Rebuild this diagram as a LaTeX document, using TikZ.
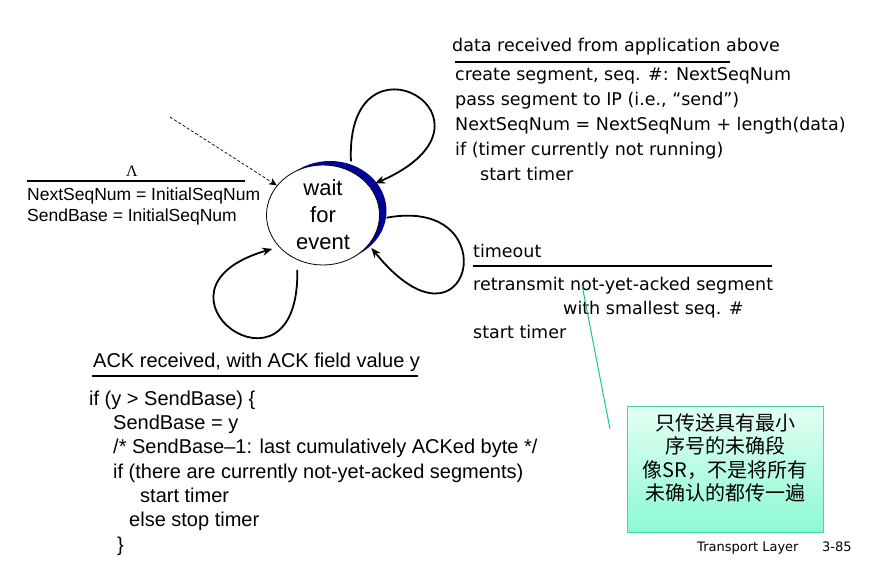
\documentclass[tikz,border=0pt]{standalone}
\usepackage{fontspec}
\usepackage{tikz}
\usetikzlibrary{arrows.meta,positioning,calc,shapes.geometric,shadows}
\newfontfamily\arialfont{Liberation Sans}
\newfontfamily\tahomafont{DejaVu Sans}
\newfontfamily\timesfont{Liberation Serif}
\newfontfamily\cjkfont{Noto Sans CJK SC}
\definecolor{ink}{RGB}{0,0,0}
\definecolor{deepblue}{RGB}{0,0,150}
\definecolor{notetop}{RGB}{228,255,242}
\definecolor{notebottom}{RGB}{140,250,212}
\definecolor{noteline}{RGB}{70,214,160}
\definecolor{pointergreen}{RGB}{20,200,150}
\tikzset{
  fsmstate/.style={ellipse,draw=ink,line width=0.8pt,fill=white,
    minimum width=113pt,minimum height=100pt,inner sep=0pt,align=center,
    font=\arialfont\fontsize{22}{27}\selectfont,
    general shadow={fill=deepblue,shadow xshift=7pt,shadow yshift=4pt}},
  selfloop/.style={line width=1.8pt,-{Stealth[length=10pt,width=8pt]}},
  initarrow/.style={line width=0.7pt,dash pattern=on 3pt off 2pt,
    -{Stealth[length=8pt,width=7pt]}},
  guardrule/.style={line width=1.3pt},
  tahtext/.style={anchor=base west,inner sep=0pt,align=left,
    font=\tahomafont\fontsize{17.5}{25}\selectfont},
  arialtext/.style={anchor=base west,inner sep=0pt,align=left,
    font=\arialfont\fontsize{20}{24.3}\selectfont},
  notebox/.style={draw=noteline,line width=1pt,top color=notetop,
    bottom color=notebottom,minimum width=196pt,minimum height=126pt},
  notetext/.style={align=center,inner sep=0pt,
    font=\cjkfont\fontsize{20}{23.3}\selectfont},
  pointer/.style={draw=pointergreen,line width=1pt},
  footnote/.style={anchor=base west,inner sep=0pt,
    font=\tahomafont\fontsize{13}{15}\selectfont}
}
\begin{document}
\begin{tikzpicture}[x=1pt,y=-1pt]
  \useasboundingbox (0,0) rectangle (881,568);
  \node[fsmstate] (wait) at (323,215) {wait\\for\\event};
  \coordinate (start) at (170,117);
  \draw[initarrow] (start) -- (wait);
  \draw[selfloop,shorten <=10pt,shorten >=6pt] (wait.57)
    .. controls (345,20) and (520,120) .. (wait.32);
  \draw[selfloop,shorten <=7pt,shorten >=4pt] (wait.-4)
    .. controls (510,195) and (470,370) .. (wait.-33);
  \draw[selfloop,shorten <=10pt,shorten >=7pt] (wait.240)
    .. controls (300,415) and (130,290) .. (wait.216);

  \node[anchor=base,inner sep=0pt,font=\timesfont\fontsize{16}{18}\selectfont]
    (lambda) at (132,176) {Λ};
  \draw[guardrule] (27,181) -- (245,181);
  \node[anchor=base west,inner sep=0pt,align=left,
    font=\arialfont\fontsize{17.5}{21.7}\selectfont] (initact) at (27,221.7)
    {NextSeqNum = InitialSeqNum\\SendBase = InitialSeqNum};

  \node[tahtext] (datarecv) at (452,51) {data received from application above};
  \draw[guardrule] (455,62) -- (730,62);
  \node[tahtext] (dataact) at (455,180) {create segment, seq. \#: NextSeqNum\\
    pass segment to IP (i.e., “send”)\\
    NextSeqNum = NextSeqNum + length(data)\\
    if (timer currently not running)\\
    \hspace*{25pt}start timer};

  \node[tahtext] (timeout) at (473,257) {timeout};
  \draw[guardrule] (473,266) -- (772,266);
  \node[tahtext,font=\tahomafont\fontsize{17.5}{24}\selectfont] (timeoutact)
    at (473,338) {retransmit not-yet-acked segment\\
    \hspace*{90pt}with smallest seq. \#\\
    start timer};

  \node[arialtext] (ackrecv) at (93,367) {ACK received, with ACK field value y};
  \draw[guardrule] (92,376) -- (418,376);
  \node[arialtext] (ackact) at (89,551) {if (y > SendBase) \{\\
    \hspace*{24pt}SendBase = y\\
    \hspace*{24pt}/* SendBase–1: last cumulatively ACKed byte */\\
    \hspace*{24pt}if (there are currently not-yet-acked segments)\\
    \hspace*{51pt}start timer\\
    \hspace*{40pt}else stop timer\\
    \hspace*{28pt}\}};

  \node[notebox] (note) at (725,469) {};
  \node[notetext] (notetxt) at (725,458)
    {只传送具有最小\\序号的未确段\\像SR，不是将所有\\未确认的都传一遍};
  \coordinate (ptrtip) at (582,285);
  \coordinate (ptrtail) at (610,429);
  \draw[pointer] (ptrtail) -- (ptrtip);

  \node[footnote] (footer) at (697,551) {Transport Layer};
  \node[footnote] (pagenum) at (822,551) {3-85};
\end{tikzpicture}
\end{document}
